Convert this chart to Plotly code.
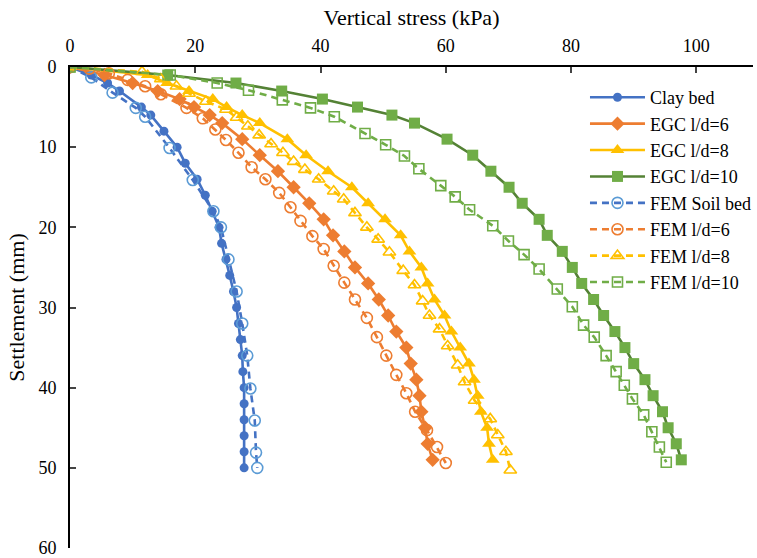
import plotly.graph_objects as go

# ---------------- data ----------------
clay_y = [0, 1, 2, 3, 5, 6, 8, 10, 12, 14, 16, 18, 20, 22, 24, 26, 28, 30, 32, 34, 36, 38, 40, 42, 44, 46, 48, 50]
clay_x = [0, 3.4, 6.0, 7.9, 11.4, 12.9, 15.0, 17.1, 18.4, 20.3, 21.6, 22.7, 23.8, 24.2, 24.9, 25.5, 26.1, 26.6,
          26.9, 27.2, 27.5, 27.6, 27.8, 27.8, 27.8, 27.8, 27.8, 27.8]

egc6_y = [0, 1, 2, 3, 4, 5, 6, 7, 9, 11, 13, 15, 17, 19, 21, 23, 25, 27, 29, 31, 33, 35, 37, 39, 41, 43, 45, 47, 49]
egc6_x = [0, 5.5, 10.0, 14.0, 17.5, 19.8, 22.3, 24.3, 27.5, 30.3, 33.2, 35.7, 38.2, 40.5, 42.0, 43.8, 45.5, 47.6,
          49.3, 50.8, 52.1, 53.7, 54.4, 55.3, 55.8, 56.1, 56.7, 57.1, 57.9]

egc8_y = [0, 1, 2, 3, 4, 5, 6, 7, 9, 11, 13, 15, 17, 19, 21, 23, 25, 27, 29, 31, 33, 35, 37, 39, 41, 43, 45, 47, 49]
egc8_x = [0, 12.4, 15.5, 19.0, 22.8, 25.0, 27.5, 30.3, 34.7, 37.7, 41.2, 45.0, 47.6, 50.3, 52.8, 54.2, 56.1, 57.1,
          58.2, 59.8, 60.9, 62.3, 63.7, 64.5, 65.1, 65.6, 66.6, 66.9, 67.5]

egc10_y = [0, 1, 2, 3, 4, 5, 6, 7, 9, 11, 13, 15, 17, 19, 21, 23, 25, 27, 29, 31, 33, 35, 37, 39, 41, 43, 45, 47, 49]
egc10_x = [0, 15.6, 26.5, 33.8, 40.3, 45.9, 51.4, 55.0, 60.2, 64.3, 67.2, 70.1, 72.2, 74.9, 76.2, 78.6, 80.2, 81.7,
           83.6, 85.2, 87.0, 88.6, 90.0, 91.8, 93.1, 94.6, 95.5, 96.8, 97.6]

fem_soil_y = [0, 1.3, 3.2, 5.1, 6.2, 10.1, 14.1, 18.0, 20.0, 24.0, 28.0, 32.0, 36.0, 40.1, 44.1, 48.1, 50.0]
fem_soil_x = [0, 3.4, 6.8, 10.5, 12.0, 15.9, 19.6, 22.9, 24.1, 25.3, 26.6, 27.5, 28.3, 28.8, 29.5, 29.7, 29.9]

fem6_y = [0, 0.2, 0.8, 1.6, 2.4, 3.4, 5.1, 6.4, 7.8, 9.1, 10.7, 12.5, 14.0, 15.7, 17.5, 19.2, 21.1, 22.7, 24.8,
          26.9, 29.0, 31.3, 33.7, 36.0, 38.4, 40.7, 43.0, 45.3, 47.4, 49.4]
fem6_x = [0, 3.1, 6.2, 9.2, 12.0, 14.5, 18.6, 21.2, 23.2, 24.9, 26.9, 29.0, 31.2, 33.4, 35.2, 36.8, 38.7, 40.5,
          42.1, 43.8, 45.5, 47.4, 49.0, 50.5, 52.1, 53.7, 55.1, 57.0, 58.6, 60.0]

fem8_y = [0, 0.6, 1.5, 2.4, 3.3, 4.3, 5.3, 6.3, 7.4, 8.5, 9.6, 10.7, 11.8, 12.8, 14.0, 15.5, 16.5, 18.2, 20.0,
          21.5, 23.1, 25.4, 27.2, 29.2, 31.0, 32.7, 34.8, 37.2, 39.3, 41.6, 43.9, 45.9, 48.0, 50.3]
fem8_x = [0, 11.5, 14.5, 17.0, 19.0, 21.7, 24.9, 26.6, 28.4, 30.2, 32.1, 34.0, 35.7, 37.5, 39.7, 42.1, 43.7, 45.5,
          47.4, 49.2, 51.0, 53.2, 55.0, 56.3, 57.4, 59.0, 60.3, 61.9, 63.0, 64.6, 67.1, 68.3, 69.6, 70.3]

fem10_y = [0, 1.0, 2.0, 2.9, 4.1, 5.1, 6.2, 8.3, 9.7, 11.1, 12.7, 14.8, 16.2, 17.8, 19.8, 21.7, 23.4, 25.2, 27.7,
           29.9, 32.2, 33.7, 36.0, 38.0, 39.7, 41.4, 43.4, 45.5, 47.4, 49.3]
fem10_x = [0, 16.0, 23.5, 28.5, 33.9, 38.4, 42.2, 47.1, 50.4, 53.4, 55.7, 59.2, 61.5, 63.8, 67.5, 70.0, 72.5, 74.9,
           77.8, 80.2, 82.0, 83.7, 85.6, 87.2, 88.5, 89.8, 91.6, 92.9, 94.1, 95.2]

x_ticks = [0, 20, 40, 60, 80, 100]
y_ticks = [0, 10, 20, 30, 40, 50, 60]

# ---------------- figure ----------------
FONT = "Liberation Serif"
fig = go.Figure()


def add(name, x, y, line_color, marker_color, symbol, size, dash="solid", open_marker=False):
    marker = dict(symbol=symbol, size=size, color=marker_color)
    if open_marker:
        marker["line"] = dict(color=marker_color, width=1.6)
    else:
        marker["line"] = dict(color=marker_color, width=0)
    fig.add_trace(go.Scatter(
        x=x, y=y, name=name, mode="lines+markers",
        line=dict(color=line_color, width=2.6, dash=dash),
        marker=marker,
    ))


DASH = "7px,5px"
add("Clay bed", clay_x, clay_y, "#4472C4", "#4472C4", "circle", 9)
add("EGC l/d=6", egc6_x, egc6_y, "#ED7D31", "#ED7D31", "diamond", 11)
add("EGC l/d=8", egc8_x, egc8_y, "#FFC000", "#FFC000", "triangle-up", 12)
add("EGC l/d=10", egc10_x, egc10_y, "#548235", "#70AD47", "square", 11)
add("FEM Soil bed", fem_soil_x, fem_soil_y, "#4472C4", "#5B9BD5", "circle-open", 11, dash=DASH, open_marker=True)
add("FEM l/d=6", fem6_x, fem6_y, "#ED7D31", "#ED7D31", "circle-open", 11, dash=DASH, open_marker=True)
add("FEM l/d=8", fem8_x, fem8_y, "#FFC000", "#FFC000", "triangle-up-open", 11, dash=DASH, open_marker=True)
add("FEM l/d=10", fem10_x, fem10_y, "#70AD47", "#70AD47", "square-open", 10, dash=DASH, open_marker=True)

fig.update_layout(
    width=757, height=558,
    margin=dict(l=70, r=0, t=67, b=8),
    paper_bgcolor="white", plot_bgcolor="white",
    font=dict(family=FONT, size=18, color="black"),
    showlegend=True,
    legend=dict(x=0.754, y=0.975, xanchor="left", yanchor="top",
                font=dict(family=FONT, size=18, color="black"),
                bgcolor="rgba(255,255,255,0)", itemwidth=55,
                traceorder="normal"),
    xaxis=dict(
        side="top", range=[0, 109.05], tickvals=x_ticks, ticks="inside", ticklen=6,
        tickwidth=1.5, showline=True, linecolor="black", linewidth=2, showgrid=False,
        zeroline=False, mirror=False, ticklabelstandoff=6, ticklabeloverflow="allow",
        title=dict(text="Vertical stress (kPa)", standoff=4, font=dict(family=FONT, size=22)),
        tickfont=dict(family=FONT, size=18),
    ),
    yaxis=dict(
        range=[60, 0], tickvals=y_ticks, ticks="inside", ticklen=6, tickwidth=1.5,
        showline=True, linecolor="black", linewidth=2, showgrid=False, zeroline=False,
        ticklabelstandoff=8, ticklabeloverflow="allow",
        title=dict(text="Settlement (mm)", standoff=8, font=dict(family=FONT, size=22)),
        tickfont=dict(family=FONT, size=18),
    ),
)

fig.write_html("out.html")
